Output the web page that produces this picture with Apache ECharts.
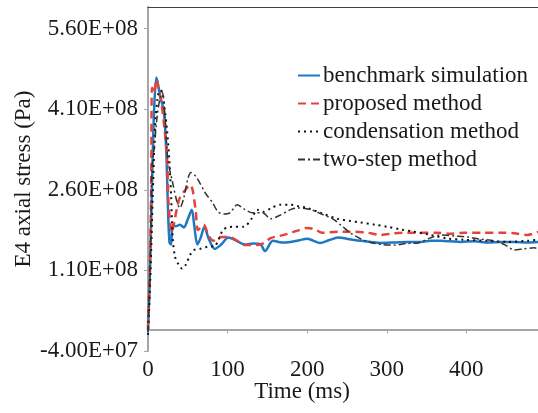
<!DOCTYPE html>
<html>
<head>
<meta charset="utf-8">
<script src="https://cdn.jsdelivr.net/npm/echarts@6/dist/echarts.min.js"></script>
<style>
  html, body { margin: 0; padding: 0; background: #fff; }
  #chart { width: 538px; height: 413px; }
</style>
</head>
<body>
<div id="chart"></div>
<script>
// time in ms, stress in Pa
var benchTime = [0, 2, 4, 6, 8, 10.5, 12, 16, 20, 23, 25, 27, 29, 31, 35, 40, 45, 50, 55, 58, 62, 66, 71, 76, 84, 92, 101, 110, 122, 132, 141, 147, 157, 168, 179, 190, 200, 208, 216, 227, 239, 253, 267, 280, 292, 310, 326, 343, 355, 368, 380, 393, 410, 427, 443, 460, 477, 491];
var benchStress = [-0.02e8, 0.8e8, 2.0e8, 3.3e8, 4.2e8, 4.69e8, 4.6e8, 4.3e8, 4.05e8, 3.3e8, 2.3e8, 1.62e8, 1.58e8, 1.95e8, 1.92e8, 1.95e8, 1.9e8, 2.05e8, 2.23e8, 1.95e8, 1.58e8, 1.7e8, 1.91e8, 1.7e8, 1.5e8, 1.58e8, 1.71e8, 1.66e8, 1.58e8, 1.6e8, 1.59e8, 1.46e8, 1.65e8, 1.62e8, 1.63e8, 1.66e8, 1.69e8, 1.65e8, 1.61e8, 1.66e8, 1.71e8, 1.68e8, 1.65e8, 1.63e8, 1.61e8, 1.62e8, 1.63e8, 1.63e8, 1.65e8, 1.65e8, 1.64e8, 1.63e8, 1.64e8, 1.62e8, 1.63e8, 1.63e8, 1.62e8, 1.63e8];

var propTime = [0, 2, 4, 5, 7, 11, 13, 17, 21, 24, 26, 30, 33, 37, 40, 47, 53, 56, 60, 63, 70, 76, 82, 88, 95, 103, 112, 122, 137, 147, 154, 165, 175, 188, 200, 210, 219, 238, 254, 276, 292, 310, 326, 343, 364, 380, 397, 420, 443, 460, 477, 491];
var propStress = [0.05e8, 1.0e8, 2.6e8, 4.5e8, 4.4e8, 4.65e8, 4.5e8, 4.2e8, 3.7e8, 3.16e8, 2.3e8, 1.8e8, 2.0e8, 2.3e8, 2.45e8, 2.6e8, 2.69e8, 2.6e8, 2.2e8, 1.85e8, 1.95e8, 1.75e8, 1.65e8, 1.71e8, 1.72e8, 1.72e8, 1.65e8, 1.57e8, 1.57e8, 1.62e8, 1.7e8, 1.74e8, 1.78e8, 1.84e8, 1.89e8, 1.86e8, 1.8e8, 1.82e8, 1.82e8, 1.8e8, 1.76e8, 1.79e8, 1.8e8, 1.8e8, 1.8e8, 1.78e8, 1.8e8, 1.8e8, 1.8e8, 1.79e8, 1.76e8, 1.82e8];

var condTime = [0, 3, 6, 9, 12, 15, 18, 21, 24, 27, 29, 31, 34, 38, 43, 48, 53, 58, 65, 72, 78, 83, 88, 94, 100, 107, 120, 131, 137, 145, 155, 166, 179, 190, 200, 217, 238, 254, 267, 285, 301, 318, 334, 355, 377, 397, 427, 452, 477, 491];
var condStress = [-0.1e8, 1.0e8, 2.5e8, 3.8e8, 4.3e8, 4.45e8, 4.42e8, 4.1e8, 3.7e8, 3.1e8, 2.5e8, 1.7e8, 1.35e8, 1.22e8, 1.13e8, 1.22e8, 1.39e8, 1.48e8, 1.5e8, 1.53e8, 1.55e8, 1.54e8, 1.65e8, 1.85e8, 1.9e8, 1.91e8, 1.91e8, 2.08e8, 2.23e8, 2.19e8, 2.26e8, 2.32e8, 2.32e8, 2.29e8, 2.26e8, 2.17e8, 2.06e8, 2.02e8, 1.99e8, 1.95e8, 1.91e8, 1.86e8, 1.82e8, 1.76e8, 1.69e8, 1.67e8, 1.65e8, 1.63e8, 1.65e8, 1.67e8];

var twoTime = [0, 3, 5, 8, 11, 15, 18, 21, 25, 31, 36, 40, 45, 50, 54, 60, 65, 72, 81, 88, 95, 103, 112, 120, 131, 144, 154, 165, 179, 188, 204, 218, 232, 244, 254, 268, 282, 295, 309, 325, 339, 354, 368, 385, 402, 418, 435, 448, 460, 472, 485, 491];
var twoStress = [-0.05e8, 1.5e8, 3.0e8, 3.4e8, 3.9e8, 4.3e8, 4.41e8, 4.03e8, 3.16e8, 2.73e8, 2.4e8, 2.26e8, 2.45e8, 2.8e8, 2.92e8, 2.85e8, 2.73e8, 2.54e8, 2.36e8, 2.19e8, 2.15e8, 2.17e8, 2.32e8, 2.25e8, 2.17e8, 2.17e8, 2.06e8, 2.12e8, 2.23e8, 2.26e8, 2.23e8, 2.15e8, 2.06e8, 1.92e8, 1.8e8, 1.68e8, 1.61e8, 1.58e8, 1.57e8, 1.6e8, 1.61e8, 1.7e8, 1.76e8, 1.74e8, 1.72e8, 1.68e8, 1.65e8, 1.58e8, 1.48e8, 1.5e8, 1.52e8, 1.5e8];

var seriesNames = ["benchmark simulation", "proposed method", "condensation method", "two-step method"];

function pairs(xs, ys) {
  return xs.map(function (x, i) { return [x, ys[i]]; });
}

// 5.60E+08 style labels
function sci(v) {
  if (v === 0) return "0.00E+00";
  var e = Math.floor(Math.log10(Math.abs(v)) + 1e-9);
  var m = v / Math.pow(10, e);
  return m.toFixed(2) + "E+" + (e < 10 ? "0" + e : e);
}

var font = "Liberation Serif";
var chart = echarts.init(document.getElementById("chart"));

chart.setOption({
  backgroundColor: "#fff",
  animation: false,
  textStyle: { fontFamily: font },
  grid: { left: 148, right: 0, top: 7, bottom: 62, outerBoundsMode: "none" },
  legend: {
    data: seriesNames,
    orient: "vertical",
    left: 292,
    top: 59,
    itemWidth: 22,
    itemHeight: 12,
    itemGap: 5,
    itemStyle: { opacity: 0 },
    textStyle: { fontFamily: font, fontSize: 23, color: "#1a1a1a", padding: [0, 0, 0, -2] }
  },
  graphic: [
    {
      type: "text",
      x: 24, y: 179,
      rotation: Math.PI / 2,
      style: { text: "E4 axial stress (Pa)", font: "23px 'Liberation Serif'", fill: "#1a1a1a", align: "center", verticalAlign: "middle" }
    },
    {
      type: "text",
      x: 302, y: 392,
      style: { text: "Time (ms)", font: "23px 'Liberation Serif'", fill: "#1a1a1a", align: "center", verticalAlign: "middle" }
    }
  ],
  xAxis: [
    {
      type: "value",
      min: 0,
      max: 490,
      interval: 100,
      axisLine: { lineStyle: { color: "#a6a6a6", width: 2 } },
      axisTick: { show: true, length: 4, lineStyle: { color: "#a6a6a6" } },
      splitLine: { show: false },
      axisLabel: { margin: 7, showMaxLabel: false, fontSize: 23, color: "#1a1a1a", fontFamily: font }
    },
    {
      type: "value",
      position: "top",
      min: 0,
      max: 490,
      axisLine: { show: true, onZero: false, lineStyle: { color: "#404040", width: 1 } },
      axisTick: { show: false },
      axisLabel: { show: false },
      splitLine: { show: false }
    }
  ],
  yAxis: {
    type: "value",
    min: -4e7,
    max: 6e8,
    interval: 1.5e8,
    axisLine: { show: true, lineStyle: { color: "#a6a6a6", width: 2 } },
    axisTick: { show: true, length: 4, lineStyle: { color: "#a6a6a6" } },
    splitLine: { show: false },
    axisLabel: { margin: 10, showMaxLabel: false, fontSize: 23, color: "#1a1a1a", fontFamily: font, formatter: sci }
  },
  series: [
    {
      name: seriesNames[0],
      type: "line",
      symbol: "none",
      smooth: 0.3,
      data: pairs(benchTime, benchStress),
      lineStyle: { color: "#1f78c4", width: 2.5 },
      itemStyle: { color: "#1f78c4" }
    },
    {
      name: seriesNames[1],
      type: "line",
      symbol: "none",
      smooth: 0.3,
      data: pairs(propTime, propStress),
      lineStyle: { color: "#e3433c", width: 2.5, type: [8, 5] },
      itemStyle: { color: "#e3433c" }
    },
    {
      name: seriesNames[2],
      type: "line",
      symbol: "none",
      smooth: 0.3,
      data: pairs(condTime, condStress),
      lineStyle: { color: "#111", width: 2, type: [2, 4] },
      itemStyle: { color: "#111" }
    },
    {
      name: seriesNames[3],
      type: "line",
      symbol: "none",
      smooth: 0.3,
      data: pairs(twoTime, twoStress),
      lineStyle: { color: "#333", width: 1.5, type: [7, 3, 2, 3] },
      itemStyle: { color: "#333" }
    }
  ]
});
</script>
</body>
</html>
